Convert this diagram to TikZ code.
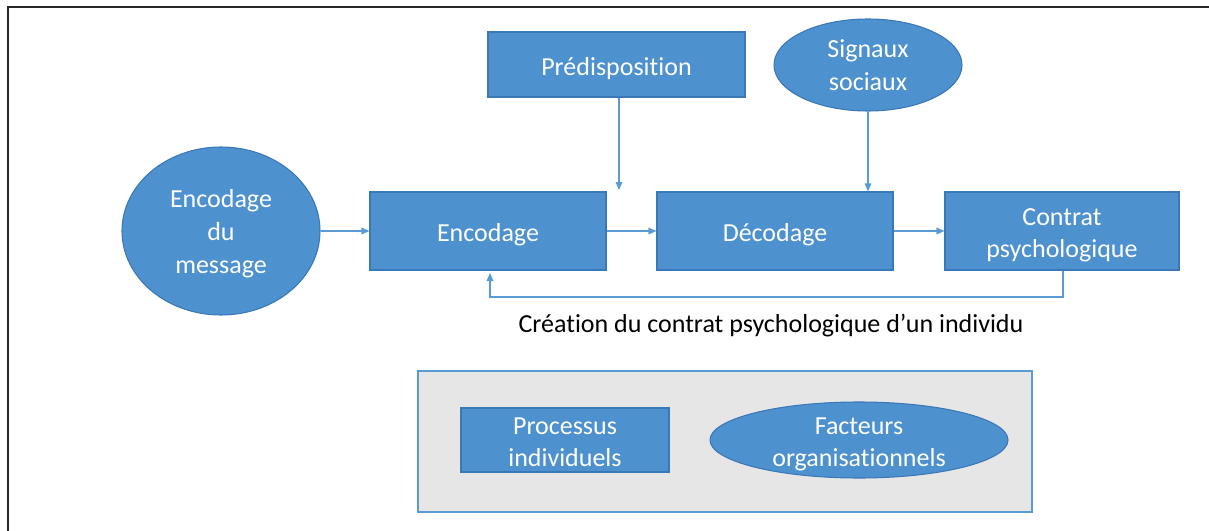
\documentclass[tikz,border=0pt]{standalone}
\usepackage{fontspec}
\setmainfont{Carlito}[Ligatures=NoCommon]
\usetikzlibrary{shapes.geometric,arrows.meta}
\definecolor{boxblue}{HTML}{4E91CF}
\definecolor{edgeblue}{HTML}{3A78B8}
\definecolor{linkblue}{HTML}{5B9BD5}
\definecolor{panelgrey}{HTML}{E6E6E6}
\definecolor{framegrey}{HTML}{262626}
\tikzset{
  txt/.style={font=\fontsize{19.5}{24.5}\selectfont, text=white, align=center, inner sep=0pt,
    execute at begin node={\rule{0pt}{19pt}}},
  % lowers a multi-line label inside its shape
  drop/.style={execute at begin node={\rule{0pt}{#1}}},
  bluebox/.style={txt, rectangle, fill=boxblue, draw=edgeblue, line width=0.8pt},
  blueoval/.style={txt, ellipse, fill=boxblue, draw=edgeblue, line width=0.8pt, inner sep=-12pt},
  link/.style={draw=linkblue, line width=0.8pt, -{Triangle[length=6pt,width=5pt]}},
}
\begin{document}
\begin{tikzpicture}[x=0.75pt, y=-0.75pt]
  \useasboundingbox (0,0) rectangle (1209,531);
  % outer frame (top and left edges)
  \draw[framegrey, line width=1.4pt] (1209,7) -- (8,7) -- (8,531);

  % main chain
  \node[blueoval, drop=66.5pt, minimum width=148.5pt, minimum height=126pt] (msg) at (221,231) {Encodage\\du\\message};
  \node[bluebox, minimum width=177pt, minimum height=58.5pt] (enc) at (488,231) {Encodage};
  \node[bluebox, minimum width=177pt, minimum height=58.5pt] (dec) at (775,231) {Décodage};
  \node[bluebox, drop=43.5pt, minimum width=175.5pt, minimum height=58.5pt] (con) at (1062,231) {Contrat\\psychologique};

  % influences from above
  \node[bluebox, minimum width=192.75pt, minimum height=48.75pt] (pre) at (616.5,64.5) {Prédisposition};
  \node[blueoval, minimum width=141pt, minimum height=69pt] (sig) at (868,65) {Signaux\\sociaux};

  % connectors
  \draw[link] (msg.east) -- (enc.west);
  \draw[link] (enc.east) -- (dec.west);
  \draw[link] (dec.east) -- (con.west);
  \coordinate (pretip) at (619,190);
  \draw[link] (pre.south -| pretip) -- (pretip);
  \draw[link] (sig.south) -- (sig.south |- dec.north);
  \coordinate (loop) at (1063,297);
  \coordinate (enctip) at (490,273);
  \draw[link] (con.south -| loop) -- (loop) -| (enctip);

  % caption
  \node[font=\fontsize{19.5}{22}\selectfont, text=black, inner sep=0pt] (cap) at (771,326) {Création du contrat psychologique d’un individu};

  % legend panel
  \node[draw=linkblue, fill=panelgrey, line width=0.8pt, minimum width=460.5pt, minimum height=105.75pt, inner sep=0pt] (panel) at (725,441.5) {};
  \node[bluebox, drop=40.5pt, minimum width=156pt, minimum height=48pt] (proc) at (565,440) {Processus\\individuels};
  \node[blueoval, drop=43.5pt, minimum width=223.5pt, minimum height=57pt] (fac) at (859,440) {Facteurs\\organisationnels};
\end{tikzpicture}
\end{document}
